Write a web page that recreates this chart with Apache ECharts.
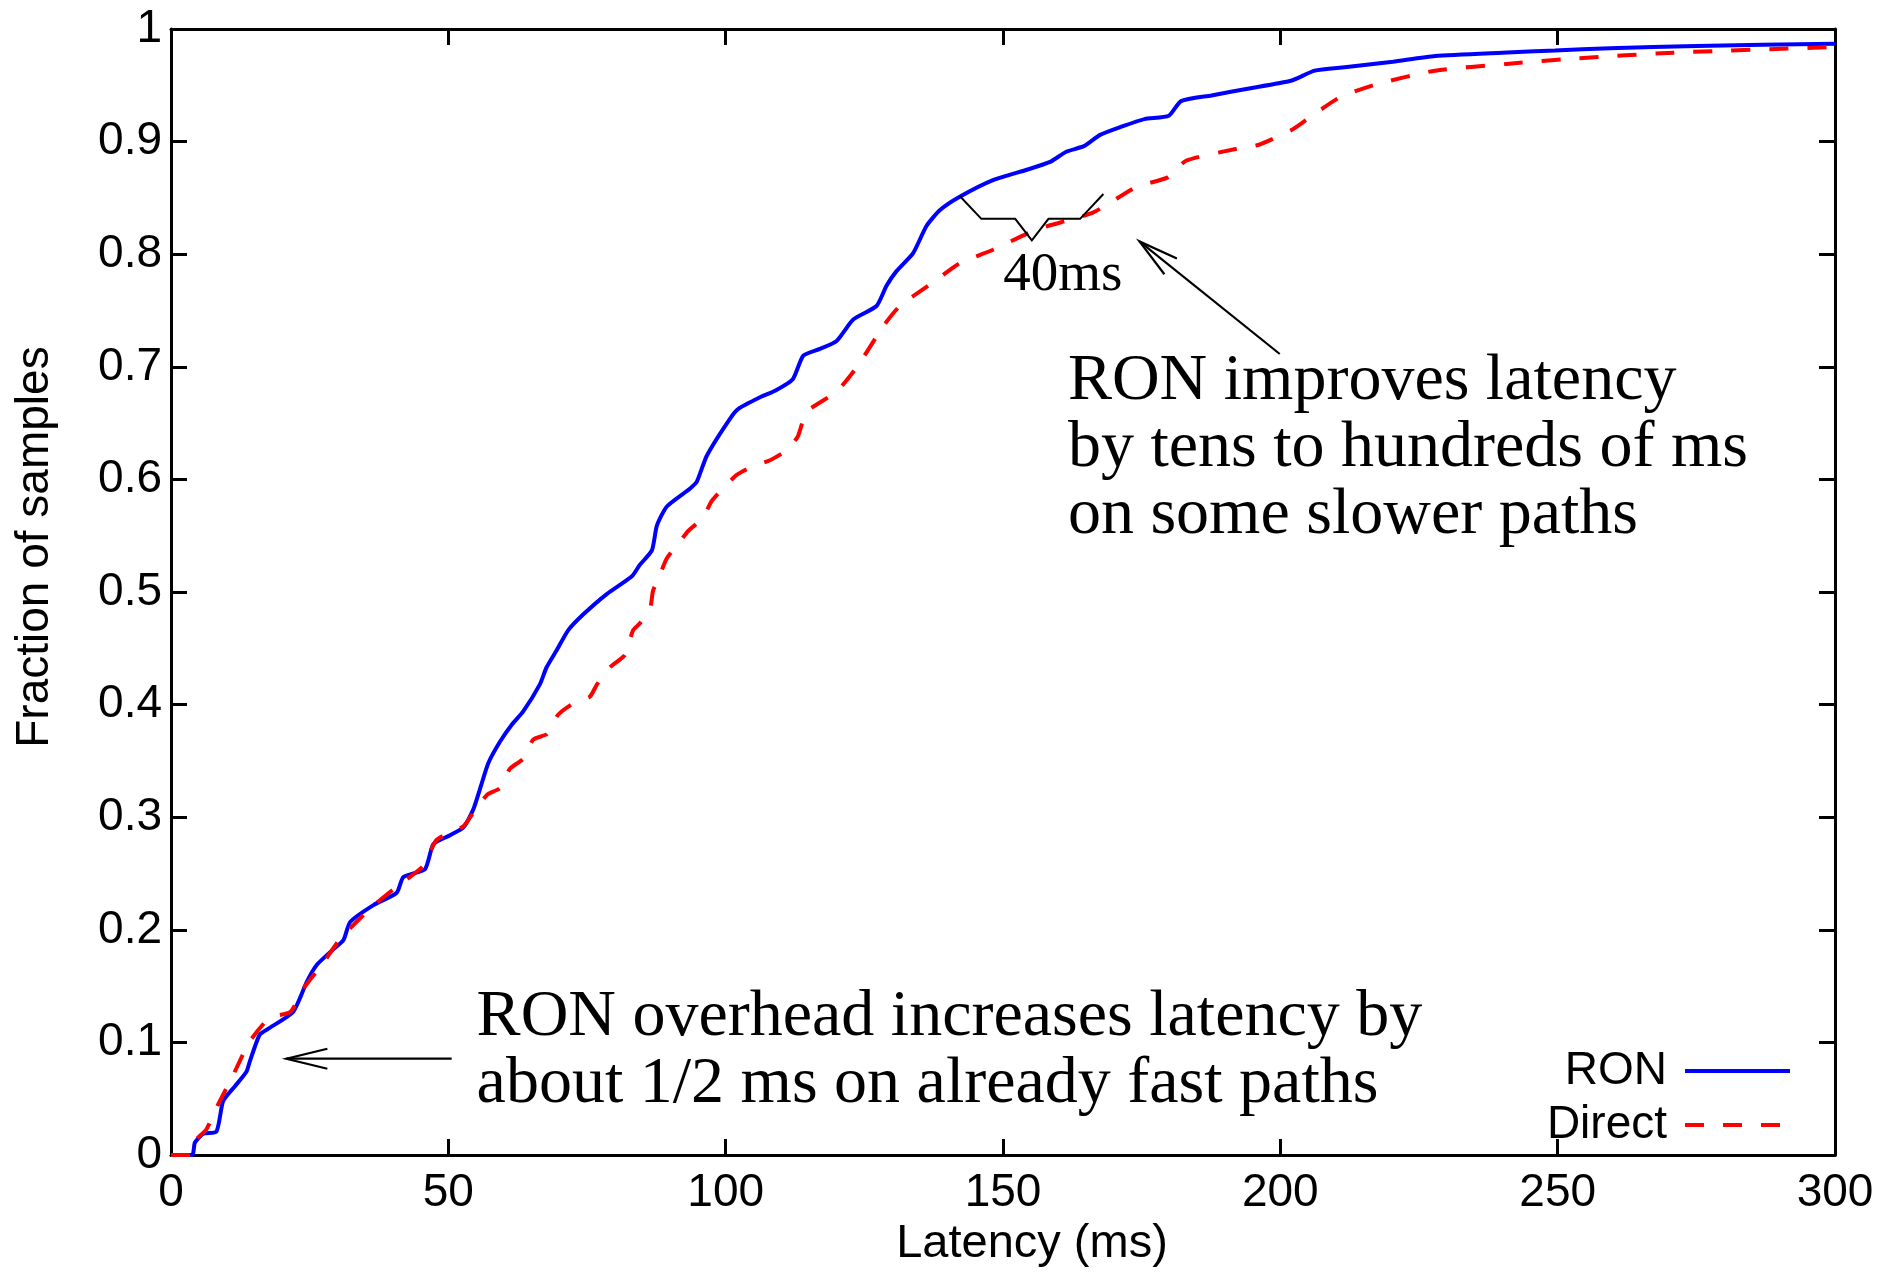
<!DOCTYPE html>
<html>
<head>
<meta charset="utf-8">
<script src="https://cdn.jsdelivr.net/npm/echarts@6/dist/echarts.min.js"></script>
<style>
html,body{margin:0;padding:0;background:#fff;}
#chart{width:1899px;height:1273px;}
</style>
</head>
<body>
<div id="chart"></div>
<script>
// ---- data ----
const ronLatency = [0,3.8,4.3,5.8,8.2,9.4,11.5,13.6,14.2,16,17.8,22,24.5,26.3,29.3,31.1,32.3,36.5,40.7,41.9,45.8,47.3,50.3,52.7,54.5,55.7,57.2,59.3,61.4,63.5,66.5,67.7,69.5,71.6,74.3,78.5,83.1,84.5,86.7,87.6,89.4,93.6,94.8,96.6,100.8,102.4,106.2,109,112.1,114,117,120,123,127.2,129,130.8,133.8,136.2,138.6,142.2,148.3,154.3,158.5,161.4,164.6,167.5,171.2,175.5,179.9,182.1,187.6,194.1,201.9,206.2,211.6,220.3,227.9,240,249.5,259.4,275,300];
const ronFraction = [0,0,0.011,0.019,0.021,0.048,0.061,0.074,0.083,0.107,0.113,0.127,0.154,0.169,0.183,0.191,0.207,0.222,0.233,0.247,0.254,0.276,0.284,0.291,0.307,0.325,0.348,0.367,0.382,0.394,0.418,0.433,0.448,0.466,0.48,0.498,0.514,0.524,0.537,0.559,0.576,0.592,0.598,0.621,0.654,0.663,0.673,0.679,0.689,0.71,0.716,0.723,0.742,0.754,0.772,0.785,0.801,0.825,0.839,0.851,0.866,0.875,0.882,0.891,0.896,0.906,0.913,0.92,0.923,0.936,0.941,0.947,0.954,0.963,0.966,0.971,0.976,0.979,0.981,0.983,0.985,0.987];

const directLatency = [0,3.4,4.6,6.4,8.5,11.2,14.2,17.8,21.5,23.9,27.5,30.5,35.9,40.1,45.5,47.9,52.7,54.5,57,59.3,61.1,63.5,65.3,67.8,69.8,72.5,75.5,76.8,79.1,81.8,83.3,84.5,86.4,86.9,88.2,89.4,91.8,93.2,95.9,97.5,99.9,102,105,108,111,113,114.6,120,123.7,128.4,131.4,137.4,142.2,148.2,156.1,166.2,174.1,179.6,183,192.5,196,201.9,204.6,210.6,217.4,227.9,240.8,253.6,270.9,300];
const directFraction = [0,0,0.014,0.023,0.045,0.071,0.101,0.122,0.127,0.148,0.171,0.192,0.219,0.236,0.257,0.28,0.292,0.304,0.32,0.326,0.343,0.352,0.369,0.374,0.391,0.401,0.407,0.418,0.433,0.444,0.466,0.472,0.486,0.501,0.516,0.53,0.545,0.554,0.566,0.581,0.594,0.604,0.612,0.617,0.626,0.638,0.66,0.678,0.7,0.736,0.754,0.775,0.792,0.804,0.822,0.837,0.86,0.868,0.883,0.894,0.897,0.91,0.919,0.939,0.951,0.963,0.969,0.974,0.979,0.984];

const seriesNames = ['RON', 'Direct'];
const xAxisTitle = 'Latency (ms)';
const yAxisTitle = 'Fraction of samples';

// annotation anchors in data coordinates
const braceLatency = [142.2,146.1,152.2,155.2,158.2,163.9,168.1];
const braceFraction = [0.8517,0.8314,0.8314,0.8123,0.8314,0.8314,0.8535];
const upperArrow = {from:[199.9,0.7114], to:[174.6,0.8114]};
const lowerArrow = {from:[50.6,0.0856], to:[20.8,0.0856]};
const upperText = {at:[161.7,0.7167], text:'RON improves latency\nby tens to hundreds of ms\non some slower paths'};
const lowerText = {at:[55.1,0.1522], text:'RON overhead increases latency by\nabout 1/2 ms on already fast paths'};
const braceText = {at:[160.8,0.7810], text:'40ms'};

// ---- chart ----
const SANS = '"Liberation Sans", Arial, Helvetica, sans-serif';
const SERIF = '"Liberation Serif", "Times New Roman", serif';
const chart = echarts.init(document.getElementById('chart'), null, {renderer:'canvas'});

const axisLine = {show:true, onZero:false, lineStyle:{color:'#000', width:3}};
const axisTick = {show:true, inside:true, length:16, lineStyle:{color:'#000', width:3}};

const option = {
  animation:false,
  backgroundColor:'#fff',
  grid:{left:171, right:64, top:29, bottom:111, containLabel:false},
  legend:{
    data:seriesNames,
    orient:'vertical',
    align:'right',
    right:102,
    top:1043,
    itemWidth:105,
    itemHeight:4,
    itemGap:8,
    itemStyle:{opacity:0},
    lineStyle:{width:4},
    textStyle:{fontFamily:SANS, fontSize:46, color:'#000', lineHeight:46, padding:[0,13,0,0]}
  },
  xAxis:[
    {type:'value', min:0, max:300, interval:50, position:'bottom',
     axisLine, axisTick,
     axisLabel:{margin:15, fontFamily:SANS, fontSize:46, color:'#000'},
     splitLine:{show:false},
     name:xAxisTitle, nameLocation:'middle', nameGap:64,
     nameTextStyle:{fontFamily:SANS, fontSize:47, color:'#000', padding:[0,0,0,58]}},
    {type:'value', min:0, max:300, interval:50, position:'top',
     axisLine, axisTick, axisLabel:{show:false}, splitLine:{show:false}}
  ],
  yAxis:[
    {type:'value', min:0, max:1, interval:0.1, position:'left',
     axisLine, axisTick,
     axisLabel:{margin:9, fontFamily:SANS, fontSize:46, color:'#000',
       formatter:v => String(+v.toFixed(1))},
     splitLine:{show:false},
     name:yAxisTitle, nameLocation:'middle', nameGap:113,
     nameTextStyle:{fontFamily:SANS, fontSize:46, color:'#000', padding:[0,0,0,90]}},
    {type:'value', min:0, max:1, interval:0.1, position:'right',
     axisLine, axisTick, axisLabel:{show:false}, splitLine:{show:false}}
  ],
  series:[
    {type:'line', name:seriesNames[0], xAxisIndex:0, yAxisIndex:0,
     data:ronLatency.map((x,i)=>[x, ronFraction[i]]),
     symbol:'none', showSymbol:false, smooth:0.2,
     lineStyle:{color:'#0000ff', width:4}, itemStyle:{color:'#0000ff'}, z:2},
    {type:'line', name:seriesNames[1], xAxisIndex:0, yAxisIndex:0,
     data:directLatency.map((x,i)=>[x, directFraction[i]]),
     symbol:'none', showSymbol:false, smooth:0.2,
     lineStyle:{color:'#ff0000', width:4, type:[19,19]}, itemStyle:{color:'#ff0000'}, z:3}
  ]
};
chart.setOption(option);

// ---- annotations placed through the axes ----
const P = (v) => chart.convertToPixel({xAxisIndex:0, yAxisIndex:0}, v);

function arrow(a, headLen, halfW){
  const p0 = P(a.from), p1 = P(a.to);
  const dx = p0[0]-p1[0], dy = p0[1]-p1[1];
  const L = Math.hypot(dx,dy), ux = dx/L, uy = dy/L;
  const bx = p1[0]+ux*headLen, by = p1[1]+uy*headLen;
  return [
    {type:'line', shape:{x1:p0[0],y1:p0[1],x2:p1[0],y2:p1[1]}, style:{stroke:'#000', lineWidth:2.2}, z:10},
    {type:'polyline', shape:{points:[[bx-uy*halfW, by+ux*halfW], p1, [bx+uy*halfW, by-ux*halfW]]},
     style:{stroke:'#000', lineWidth:2.2, fill:null}, z:10}
  ];
}

const gfx = [];
gfx.push({type:'polyline', shape:{points:braceLatency.map((x,i)=>P([x, braceFraction[i]]))},
  style:{stroke:'#000', lineWidth:2, fill:null}, z:10});
gfx.push(...arrow(upperArrow, 40, 10));
gfx.push(...arrow(lowerArrow, 41, 10));
let p = P(upperText.at);
gfx.push({type:'text', x:p[0], y:p[1], z:10,
  style:{text:upperText.text, font:'66px '+SERIF, fill:'#000', textAlign:'left', textVerticalAlign:'top', lineHeight:67}});
p = P(lowerText.at);
gfx.push({type:'text', x:p[0], y:p[1], z:10,
  style:{text:lowerText.text, font:'66px '+SERIF, fill:'#000', textAlign:'left', textVerticalAlign:'top', lineHeight:67}});
p = P(braceText.at);
gfx.push({type:'text', x:p[0], y:p[1], z:10,
  style:{text:braceText.text, font:'55px '+SERIF, fill:'#000', textAlign:'center', textVerticalAlign:'middle'}});

chart.setOption({graphic:{elements:gfx}});
</script>
</body>
</html>
